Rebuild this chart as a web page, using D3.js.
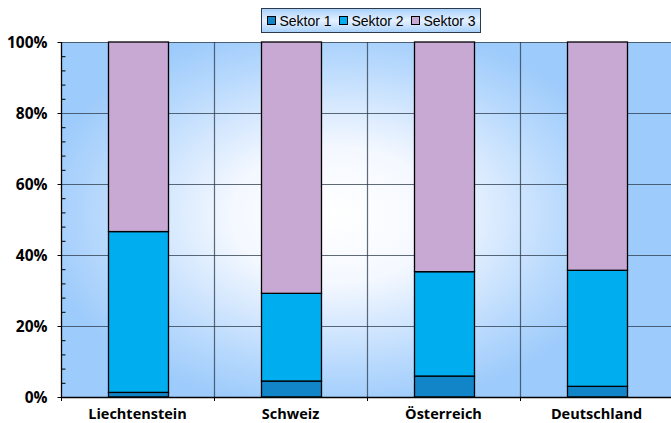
<!DOCTYPE html>
<html>
<head>
<meta charset="utf-8">
<script src="https://cdn.jsdelivr.net/npm/d3@7"></script>
<style>
  body { margin: 0; background: #fff; }
  svg { display: block; }
</style>
</head>
<body>
<svg width="671" height="423"></svg>
<script>
// Data
const countries = ["Liechtenstein", "Schweiz", "Österreich", "Deutschland"];
const sectors = ["Sektor 1", "Sektor 2", "Sektor 3"];
const sektor1 = [1.3, 4.5, 5.9, 3.0];
const sektor2 = [45.3, 24.7, 29.4, 32.7];
const sektor3 = [53.4, 70.8, 64.7, 64.3];
const yTicks = [0, 20, 40, 60, 80, 100];
const colors = ["#1185c8", "#00adee", "#c8a9d3"];

const svg = d3.select("svg");
const margin = {left: 61, top: 42, right: -2, bottom: 26};
const W = 671, H = 423;

const x = d3.scaleBand().domain(countries).range([margin.left, W - margin.right]).paddingInner(0).paddingOuter(0);
const y = d3.scaleLinear().domain([0, 100]).range([H - margin.bottom, margin.top]);

// background gradient
const defs = svg.append("defs");
const rg = defs.append("radialGradient").attr("id", "bg")
    .attr("gradientUnits", "userSpaceOnUse")
    .attr("cx", 335).attr("cy", 215).attr("r", 260)
    .attr("gradientTransform", "translate(335,215) scale(1.15,0.75) translate(-335,-215)");
rg.append("stop").attr("offset", "0%").attr("stop-color", "#ffffff");
rg.append("stop").attr("offset", "35%").attr("stop-color", "#f4f8ff");
rg.append("stop").attr("offset", "78%").attr("stop-color", "#b8d9fd");
rg.append("stop").attr("offset", "100%").attr("stop-color", "#9dcbfb");

const lg = defs.append("linearGradient").attr("id", "leg").attr("x1", 0).attr("y1", 0).attr("x2", 0).attr("y2", 1);
lg.append("stop").attr("offset", "0%").attr("stop-color", "#a6d0fb");
lg.append("stop").attr("offset", "50%").attr("stop-color", "#e6f1ff");
lg.append("stop").attr("offset", "100%").attr("stop-color", "#a6d0fb");

svg.append("rect")
    .attr("x", margin.left).attr("y", y(100))
    .attr("width", W - margin.left).attr("height", y(0) - y(100))
    .attr("fill", "url(#bg)");

// gridlines
svg.append("g").selectAll("line")
    .data(yTicks.slice(1))
    .join("line")
    .attr("x1", margin.left).attr("x2", W)
    .attr("y1", d => y(d) + 0.5).attr("y2", d => y(d) + 0.5)
    .attr("stroke", "#2b3a4a").attr("stroke-opacity", 0.75).attr("stroke-width", 1.2);

svg.append("g").selectAll("line")
    .data(countries.slice(1))
    .join("line")
    .attr("x1", d => x(d) + 0.5).attr("x2", d => x(d) + 0.5)
    .attr("y1", y(100)).attr("y2", y(0))
    .attr("stroke", "#2b3a4a").attr("stroke-opacity", 0.75).attr("stroke-width", 1.2);

// stacked bars
const rows = countries.map((c, i) => ({country: c, "Sektor 1": sektor1[i], "Sektor 2": sektor2[i], "Sektor 3": sektor3[i]}));
const stack = d3.stack().keys(sectors)(rows);
const bw = x.bandwidth() * 0.39;

svg.append("g").selectAll("g")
    .data(stack)
    .join("g")
    .attr("fill", (d, i) => colors[i])
    .selectAll("rect")
    .data(d => d)
    .join("rect")
    .attr("x", d => Math.round(x(d.data.country) + x.bandwidth() / 2 - bw / 2) + 0.5)
    .attr("width", Math.round(bw))
    .attr("y", d => y(d[1]))
    .attr("height", d => y(d[0]) - y(d[1]))
    .attr("stroke", "#000").attr("stroke-width", 1.3);

// y axis
const yAxis = svg.append("g").attr("transform", `translate(${margin.left + 0.5},0)`);
yAxis.append("line").attr("y1", y(100)).attr("y2", y(0)).attr("stroke", "#000").attr("stroke-width", 1.3);
// minor ticks
yAxis.selectAll("line.minor")
    .data(d3.range(0, 101, 4).filter(v => v % 20 !== 0))
    .join("line").attr("class", "minor")
    .attr("x1", 0).attr("x2", 4)
    .attr("y1", d => y(d) + 0.5).attr("y2", d => y(d) + 0.5)
    .attr("stroke", "#000");
yAxis.selectAll("line.major")
    .data(yTicks)
    .join("line").attr("class", "major")
    .attr("x1", -4).attr("x2", 0)
    .attr("y1", d => y(d) + 0.5).attr("y2", d => y(d) + 0.5)
    .attr("stroke", "#000");
yAxis.selectAll("text")
    .data(yTicks)
    .join("text")
    .attr("x", -14).attr("y", d => y(d) + 6)
    .attr("text-anchor", "end")
    .attr("font-family", "'Open Sans', sans-serif")
    .attr("font-weight", "bold").attr("font-size", 15.5)
    .text(d => d + "%");

// x axis
const xAxis = svg.append("g");
xAxis.append("line").attr("x1", margin.left).attr("x2", W)
    .attr("y1", y(0) + 0.5).attr("y2", y(0) + 0.5).attr("stroke", "#000").attr("stroke-width", 1.5);
xAxis.selectAll("line.tick")
    .data(countries)
    .join("line").attr("class", "tick")
    .attr("x1", d => x(d) + 0.5).attr("x2", d => x(d) + 0.5)
    .attr("y1", y(0)).attr("y2", y(0) + 4)
    .attr("stroke", "#000");
xAxis.selectAll("text")
    .data(countries)
    .join("text")
    .attr("x", d => x(d) + x.bandwidth() / 2)
    .attr("y", 419)
    .attr("text-anchor", "middle")
    .attr("font-family", "'Open Sans', sans-serif")
    .attr("font-weight", "bold").attr("font-size", 14.5)
    .text(d => d);

// legend
const leg = svg.append("g").attr("transform", "translate(261.5,8.5)");
leg.append("rect").attr("width", 219).attr("height", 24)
    .attr("fill", "url(#leg)").attr("stroke", "#2b3a4a").attr("stroke-width", 1);
const items = leg.selectAll("g").data(sectors).join("g")
    .attr("transform", (d, i) => `translate(${6 + i * 72},0)`);
items.append("rect").attr("x", 0).attr("y", 8).attr("width", 8).attr("height", 8)
    .attr("fill", (d, i) => colors[i]).attr("stroke", "#000");
items.append("text").attr("x", 12).attr("y", 17.5)
    .attr("font-family", "'Liberation Sans', Arial, sans-serif").attr("font-size", 14)
    .text(d => d);
</script>
</body>
</html>
